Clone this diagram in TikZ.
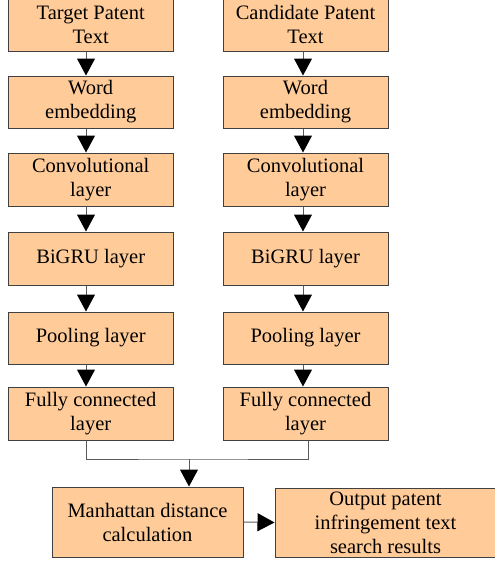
\documentclass[tikz,border=0pt]{standalone}
\usepackage{fontspec}
\setmainfont{Liberation Serif}
\newfontfamily\boxfont{Liberation Serif}
\usetikzlibrary{arrows.meta}
\definecolor{boxfill}{HTML}{FFCC99}
\definecolor{boxline}{HTML}{404040}
\definecolor{wire}{HTML}{5A5A5A}
\begin{document}
\begin{tikzpicture}[x=1pt,y=-1pt,
  block/.style={draw=boxline,line width=1pt,fill=boxfill,rectangle,inner sep=0pt,
    align=center,font=\boxfont\fontsize{20.5}{24}\selectfont},
  colbox/.style={block,minimum width=165pt},
  wireline/.style={draw=wire,line width=1pt},
  flow/.style={wireline,-{Triangle[width=18pt,length=17pt,fill=black,color=black]}}]
\useasboundingbox (0,0) rectangle (495,562);
% column guides for the arrows
\coordinate (colL) at (86,0);
\coordinate (colR) at (303,0);
\coordinate (colRm) at (308,0);
% left branch
\node[colbox,minimum height=53pt] (lt) at (90.7,24.5) {Target Patent\\Text};
\node[colbox,minimum height=52pt] (lw) at (90.7,102) {Word\\embedding};
\node[colbox,minimum height=53pt] (lc) at (90.7,179.5) {Convolutional\\layer};
\node[colbox,minimum height=53pt] (lg) at (90.7,258.5) {BiGRU layer};
\node[colbox,minimum height=52pt] (lp) at (90.7,338) {Pooling layer};
\node[colbox,minimum height=53pt] (lf) at (90.7,413.5) {Fully connected\\layer};
% right branch
\node[colbox,minimum height=53pt] (rt) at (305.5,24.5) {Candidate Patent\\Text};
\node[colbox,minimum height=52pt] (rw) at (305.5,102) {Word\\embedding};
\node[colbox,minimum height=53pt] (rc) at (305.5,179.5) {Convolutional\\layer};
\node[colbox,minimum height=53pt] (rg) at (305.5,258.5) {BiGRU layer};
\node[colbox,minimum height=52pt] (rp) at (305.5,338) {Pooling layer};
\node[colbox,minimum height=53pt] (rf) at (305.5,413.5) {Fully connected\\layer};
% bottom row
\node[block,minimum width=191pt,minimum height=70pt] (man) at (147.5,522) {Manhattan distance\\calculation};
\node[block,minimum width=221pt,minimum height=69pt] (out) at (385.5,522.5) {Output patent\\infringement text\\search results};
% vertical arrows
\foreach \a/\b in {lt/lw,lw/lc,lc/lg,lg/lp,lp/lf}
  \draw[flow] (\a.south -| colL) -- (\b.north -| colL);
\foreach \a/\b in {rt/rw,rw/rc,rc/rg,rg/rp,rp/rf}
  \draw[flow] (\a.south -| colR) -- (\b.north -| colR);
% merge of both branches
\coordinate (jn) at (189,459);
\draw[wireline] (lf.south -| colL) |- (jn) -| (rf.south -| colRm);
\draw[flow] (jn) -- (man.north -| jn);
\draw[flow] (man.east) -- (out.west);
\end{tikzpicture}
\end{document}
